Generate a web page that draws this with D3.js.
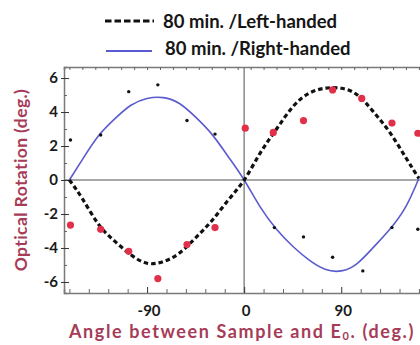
<!DOCTYPE html>
<html>
<head>
<meta charset="utf-8">
<script src="https://cdn.jsdelivr.net/npm/d3@7"></script>
<style>
  body { margin: 0; background: #fff; }
  svg { display: block; font-family: Lato, "Open Sans", sans-serif; }
  .tick-label { font-size: 15px; font-weight: bold; fill: #1a1a1a; }
  .axis-title { font-size: 17.5px; font-weight: bold; fill: #a63c58; }
  .legend { font-size: 18.5px; font-weight: bold; fill: #151515; }
</style>
</head>
<body>
<svg width="420" height="345"></svg>
<script>
// fitted curves (angle in deg, rotation in deg)
const leftAngles  = [-162, -150, -135, -120, -105, -90, -75, -60, -45, -30, -15, 0, 15, 30, 45, 60, 75, 90, 105, 120, 135, 150, 162];
const leftFit     = [0, -1.1, -2.6, -3.6, -4.4, -4.9, -4.8, -4.3, -3.4, -2.4, -1.2, 0, 1.6, 3.0, 4.3, 5.1, 5.4, 5.4, 5.0, 4.0, 2.8, 1.3, 0.1];
const rightAngles = [-162, -150, -135, -120, -105, -90, -75, -60, -45, -30, -15, 0, 15, 30, 45, 60, 75, 90, 105, 120, 135, 150, 162];
const rightFit    = [0, 1.2, 2.6, 3.6, 4.4, 4.8, 4.85, 4.5, 3.7, 2.7, 1.4, 0, -1.6, -2.9, -3.9, -4.7, -5.25, -5.35, -4.9, -3.95, -2.9, -1.55, 0.1];

// measured points
const measAngles  = [-161, -133, -107, -80, -53, -27, 1, 27, 55, 82, 109, 137, 161];
const leftMeas    = [-2.65, -2.9, -4.2, -5.8, -3.8, -2.8, 3.05, 2.8, 3.5, 5.3, 4.8, 3.35, 2.75];
const rightAngles2 = [-161, -133, -107, -80, -53, -27, 28, 55, 82, 110, 137, 161];
const rightMeas   = [2.35, 2.65, 5.2, 5.6, 3.5, 2.7, -2.8, -3.35, -4.55, -5.35, -2.8, -2.9];

const xTicks = [-90, 0, 90];
const yTicks = [-6, -4, -2, 0, 2, 4, 6];
const legendLabels = ['80 min. /Left-handed', '80 min. /Right-handed'];

const svg = d3.select('svg');
const margin = { top: 67, right: 0, bottom: 52, left: 64 };
const width = +svg.attr('width');
const height = +svg.attr('height');

const x = d3.scaleLinear().domain([-167, 163]).range([margin.left, width - margin.right]);
const y = d3.scaleLinear().domain([-6.65, 6.65]).range([height - margin.bottom, margin.top]);

const frame = '#7a7a7a';

svg.append('clipPath').attr('id', 'plot')
  .append('rect')
  .attr('x', margin.left).attr('y', margin.top)
  .attr('width', width - margin.left - margin.right)
  .attr('height', height - margin.top - margin.bottom);

// zero lines
svg.append('line')
  .attr('x1', x(0)).attr('x2', x(0))
  .attr('y1', y.range()[0]).attr('y2', y.range()[1])
  .attr('stroke', '#8a8a8a').attr('stroke-width', 1.5);
svg.append('line')
  .attr('x1', x.range()[0]).attr('x2', x.range()[1])
  .attr('y1', y(0)).attr('y2', y(0))
  .attr('stroke', '#8a8a8a').attr('stroke-width', 1.5);

// axes (ticks inward)
const bottomAxis = d3.axisBottom(x).tickValues(d3.range(-162, 163, 18)).tickSize(-4).tickFormat('');
const topAxis = d3.axisTop(x).tickValues(d3.range(-162, 163, 12)).tickSize(-3).tickFormat('');
const leftAxis = d3.axisLeft(y).tickValues(d3.range(-6, 6.1, 1)).tickSize(-3).tickFormat('');

const gb = svg.append('g').attr('transform', `translate(0,${y.range()[0]})`).call(bottomAxis);
const gt = svg.append('g').attr('transform', `translate(0,${y.range()[1]})`).call(topAxis);
const gl = svg.append('g').attr('transform', `translate(${x.range()[0]},0)`).call(leftAxis);
[gb, gt, gl].forEach(g => {
  g.selectAll('.domain').attr('stroke', frame).attr('stroke-width', 1.5);
  g.selectAll('.tick line').attr('stroke', '#666');
});
gb.selectAll('.tick line').filter(d => xTicks.includes(d)).attr('y2', -6).attr('stroke', '#333');
gl.selectAll('.tick line').filter(d => yTicks.includes(d)).attr('x1', -3).attr('x2', 5).attr('stroke', '#333');

// tick labels
svg.append('g').selectAll('text').data(xTicks).join('text')
  .attr('class', 'tick-label')
  .attr('x', d => x(d) + 2).attr('y', y.range()[0] + 23)
  .attr('text-anchor', 'middle')
  .text(d => d);
svg.append('g').selectAll('text').data(yTicks).join('text')
  .attr('class', 'tick-label')
  .attr('x', x.range()[0] - 6).attr('y', d => y(d) + 5)
  .attr('text-anchor', 'end')
  .text(d => d);

// curves
const line = d3.line().x(d => x(d[0])).y(d => y(d[1])).curve(d3.curveNatural);
const plot = svg.append('g').attr('clip-path', 'url(#plot)');

plot.append('path')
  .attr('d', line(d3.zip(rightAngles, rightFit)))
  .attr('fill', 'none').attr('stroke', '#5b5bd0').attr('stroke-width', 1.6);
plot.append('path')
  .attr('d', line(d3.zip(leftAngles, leftFit)))
  .attr('fill', 'none').attr('stroke', '#111').attr('stroke-width', 3.2)
  .attr('stroke-dasharray', '4.5,3');

// measured points
plot.selectAll('.red').data(d3.zip(measAngles, leftMeas)).join('circle')
  .attr('class', 'red')
  .attr('cx', d => x(d[0])).attr('cy', d => y(d[1]))
  .attr('r', 3.6).attr('fill', '#e0304a');
plot.selectAll('.blk').data(d3.zip(rightAngles2, rightMeas)).join('circle')
  .attr('class', 'blk')
  .attr('cx', d => x(d[0])).attr('cy', d => y(d[1]))
  .attr('r', 1.7).attr('fill', '#111');

// axis titles
svg.append('text')
  .attr('class', 'axis-title')
  .attr('transform', `translate(27,${(y.range()[0] + y.range()[1]) / 2}) rotate(-90)`)
  .attr('text-anchor', 'middle')
  .style('letter-spacing', '0.4px')
  .text('Optical Rotation (deg.)');

const xt = svg.append('text')
  .attr('class', 'axis-title')
  .attr('x', 242).attr('y', 338)
  .attr('text-anchor', 'middle')
  .style('font-size', '18px')
  .style('letter-spacing', '1.6px');
xt.append('tspan').text('Angle between Sample and E');
xt.append('tspan').attr('font-size', 11).attr('dy', 2).text('0');
xt.append('tspan').attr('dy', -2).text('. (deg.)');

// legend
const legend = svg.append('g');
legend.append('line')
  .attr('x1', 105).attr('x2', 154).attr('y1', 21).attr('y2', 21)
  .attr('stroke', '#111').attr('stroke-width', 3.2).attr('stroke-dasharray', '6.5,3');
legend.append('line')
  .attr('x1', 106).attr('x2', 152).attr('y1', 51).attr('y2', 51)
  .attr('stroke', '#5b5bd0').attr('stroke-width', 1.8);
legend.append('text').attr('class', 'legend').attr('x', 163).attr('y', 28).text(legendLabels[0]);
legend.append('text').attr('class', 'legend').attr('x', 165).attr('y', 55).text(legendLabels[1]);
</script>
</body>
</html>
